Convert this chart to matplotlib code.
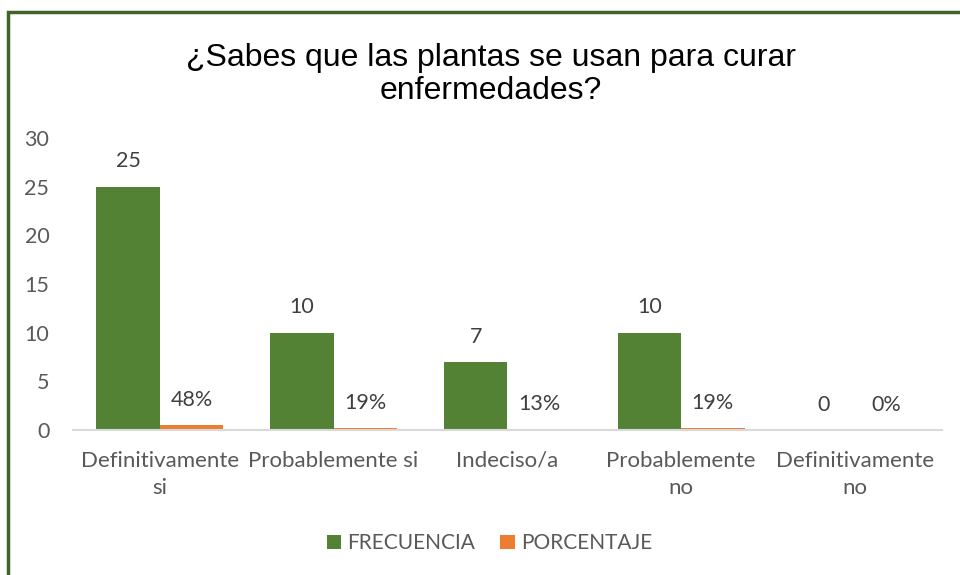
import matplotlib
matplotlib.use('Agg')
import matplotlib.pyplot as plt
from matplotlib.patches import Rectangle
import numpy as np

categories = ['Definitivamente\nsi', 'Probablemente si', 'Indeciso/a', 'Probablemente\nno', 'Definitivamente\nno']
frecuencia = [25, 10, 7, 10, 0]
porcentaje = [0.48, 0.19, 0.13, 0.19, 0.0]
pct_labels = ['48%', '19%', '13%', '19%', '0%']
yticks = [0, 5, 10, 15, 20, 25, 30]

green = '#548235'
orange = '#ED7D31'
text_col = '#404040'
tick_col = '#595959'

fig = plt.figure(figsize=(9.6, 5.75), dpi=100)
ax = fig.add_axes([0.076, 0.252, 0.905, 0.508])

x = np.arange(len(categories))
w = 0.365
b1 = ax.bar(x - w / 2, frecuencia, w, color=green, label='FRECUENCIA')
b2 = ax.bar(x + w / 2, porcentaje, w, color=orange, label='PORCENTAJE')

for rect, v in zip(b1, frecuencia):
    ax.annotate(str(v), (rect.get_x() + rect.get_width() / 2, rect.get_height()),
                xytext=(0, 11), textcoords='offset points', ha='center', va='bottom',
                fontsize=15.5, color=text_col, family='Lato')
for rect, s in zip(b2, pct_labels):
    ax.annotate(s, (rect.get_x() + rect.get_width() / 2, rect.get_height()),
                xytext=(0, 11), textcoords='offset points', ha='center', va='bottom',
                fontsize=15.5, color=text_col, family='Lato')

ax.set_xlim(-0.5, len(categories) - 0.5)
ax.set_ylim(0, 30)
ax.set_yticks(yticks)
ax.set_xticks(x)
ax.set_xticklabels(categories, fontsize=16, color=tick_col, family='Lato', linespacing=1.45)
ax.tick_params(axis='y', labelsize=15.5, labelcolor=tick_col, length=0, pad=17)
ax.tick_params(axis='x', length=0, pad=15)
for lab in ax.get_yticklabels():
    lab.set_family('Lato')
for s in ['top', 'right', 'left']:
    ax.spines[s].set_visible(False)
ax.spines['bottom'].set_color('#d9d9d9')
ax.spines['bottom'].set_linewidth(1.5)

fig.text(0.511, 0.87, '¿Sabes que las plantas se usan para curar\nenfermedades?',
         ha='center', va='center', fontsize=23, family='Liberation Sans',
         color='black', linespacing=1.15)

leg = fig.legend(loc='center', bbox_to_anchor=(0.51, 0.055), ncol=2, frameon=False,
                 prop={'family': 'Lato', 'size': 15}, handlelength=0.7, handleheight=0.7,
                 handletextpad=0.3, columnspacing=1.2)
for t in leg.get_texts():
    t.set_color(tick_col)

# chart border (left and top visible)
fig.patches.append(Rectangle((0.008, -0.1), 1.1, 1.079, transform=fig.transFigure,
                             fill=False, edgecolor='#3f6427', linewidth=2.5))

fig.savefig('out.png', dpi=100, facecolor='white')
